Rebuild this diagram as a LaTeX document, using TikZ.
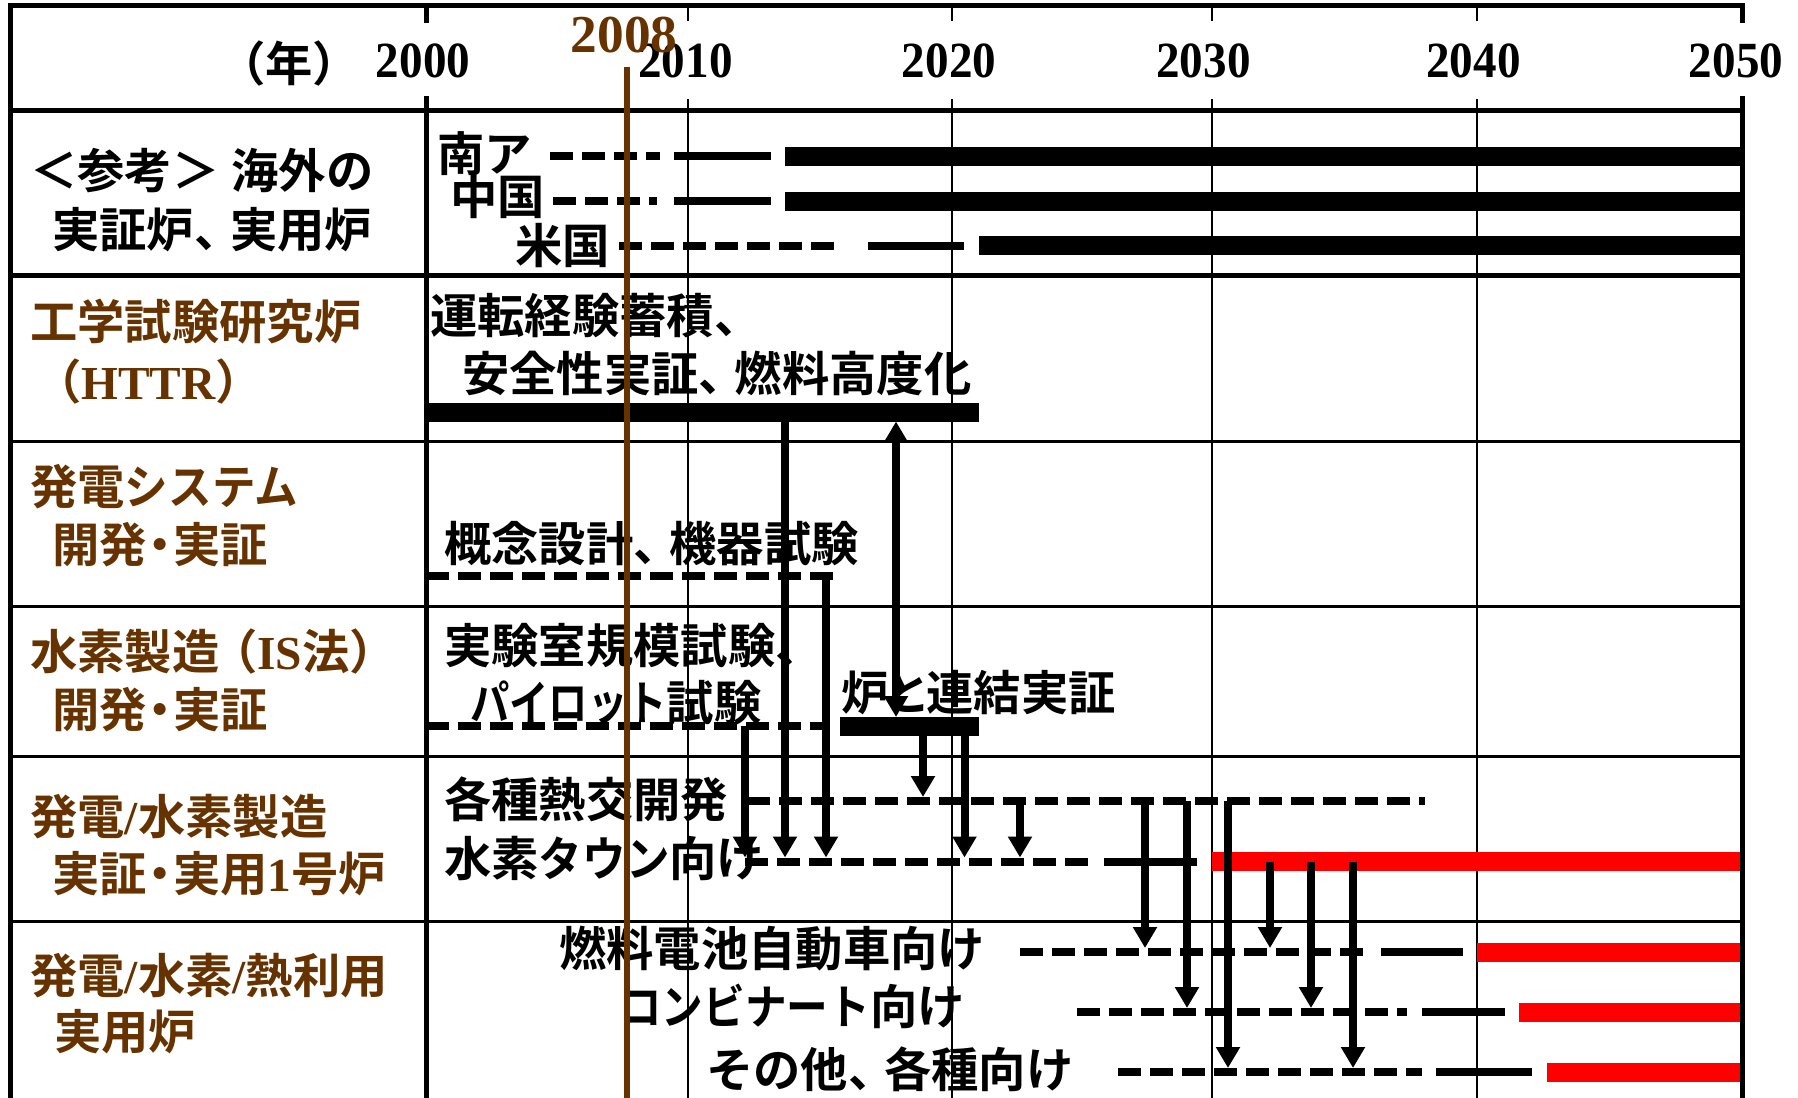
\documentclass[tikz,border=0pt]{standalone}
\usepackage{fontspec}
\usetikzlibrary{arrows.meta}
\newfontfamily\cj{Noto Sans CJK JP}[BoldFont={Noto Sans CJK JP Bold}]
\newfontfamily\tm{Liberation Serif}
\newfontfamily\tmc{Liberation Serif}[FakeStretch=0.93]
\definecolor{brn}{HTML}{663300}
\definecolor{rd}{HTML}{FF0000}
\newcommand\jfont{\cj\bfseries\fontsize{35.5pt}{40pt}\selectfont}
\newcommand\sr[1]{{\tm\bfseries #1}}
\newcommand\tou{\makebox[0.76em][l]{、}}
\newcommand\nkg{\makebox[0.55em][c]{・}}
\newcommand\nx[2]{\scalebox{#1}[1]{#2}}
\newcommand\yfont{\tmc\bfseries\fontsize{38pt}{40pt}\selectfont}
\newcommand\yyfont{\tm\bfseries\fontsize{40pt}{42pt}\selectfont}
\begin{document}
\begin{tikzpicture}[x=0.75pt,y=-0.75pt,
  lab/.style={anchor=west,inner sep=0pt,font=\jfont},
  side/.style={lab,text=brn},
  yr/.style={inner sep=0pt,font=\yfont},
  bd/.style={line width=3.75pt,line cap=rect},
  rowl/.style={line width=1.9pt},
  grid/.style={line width=1.5pt},
  dsh/.style={line width=6pt,dash pattern=on 17.25pt off 6.75pt},
  sol/.style={line width=6pt},
  thk/.style={line width=14.25pt},
  redb/.style={line width=14.25pt,draw=rd},
  tipa/.tip={Triangle[length=15.75pt,width=17.25pt]},
  arr/.style={line width=6pt,-tipa},
  darr/.style={line width=6pt,tipa-tipa}]
\useasboundingbox (0,0) rectangle (1798,1098);

% thin year gridlines
\foreach \gx in {688,952,1212,1477}{
  \draw[grid] (\gx,6) -- (\gx,21);
  \draw[grid] (\gx,99) -- (\gx,1098);
}
% row lines
\draw[bd] (10,111) -- (1742,111);
\draw[bd] (10,275.5) -- (1742,275.5);
\foreach \ry in {441.5,606.5,756.5,921.5}{
  \draw[rowl] (10,\ry) -- (1742,\ry);
}

% ---- row 1 : overseas
\draw[dsh] (550,156.5) -- (660,156.5);
\draw[sol] (674,156.5) -- (771,156.5);
\draw[thk] (785,156.5) -- (1742,156.5);
\draw[dsh] (553,201.5) -- (657,201.5);
\draw[sol] (674,201.5) -- (771,201.5);
\draw[thk] (785,201.5) -- (1742,201.5);
\draw[dsh] (619,246) -- (835,246);
\draw[sol] (868,246) -- (964,246);
\draw[thk] (979,246) -- (1742,246);

% ---- HTTR bar
\draw[thk] (425,412) -- (979,412);
% ---- power system dashed
\draw[dsh] (426,576) -- (833,576);
% ---- IS dashed + coupling bar
\draw[dsh] (426,726) -- (826,726);
\draw[thk] (840,726.5) -- (979,726.5);
% ---- heat exchanger dashed
\draw[dsh] (747,801) -- (1425,801);
% ---- hydrogen town
\draw[dsh] (745,861.5) -- (1088,861.5);
\draw[sol] (1104,861.5) -- (1197,861.5);
\draw[redb] (1212,861.5) -- (1742,861.5);
% ---- practical reactors
\draw[dsh] (1020,952) -- (1364,952);
\draw[sol] (1381,952) -- (1463,952);
\draw[redb] (1477,952) -- (1742,952);
\draw[dsh] (1077,1012) -- (1407,1012);
\draw[sol] (1422,1012) -- (1505,1012);
\draw[redb] (1519,1012) -- (1742,1012);
\draw[dsh] (1118,1072) -- (1422,1072);
\draw[sol] (1436,1072) -- (1532,1072);
\draw[redb] (1547,1072) -- (1742,1072);

% ---- arrows
\draw[arr] (745,726) -- (745,857.5);
\draw[arr] (785,412) -- (785,857.5);
\draw[arr] (826,572) -- (826,857.5);
\draw[darr] (896,421.5) -- (896,717);
\draw[arr] (923,726.5) -- (923,797);
\draw[arr] (964.5,726.5) -- (964.5,857.5);
\draw[arr] (1020,801) -- (1020,857.5);
\draw[arr] (1145,801) -- (1145,948);
\draw[arr] (1187,801) -- (1187,1008);
\draw[arr] (1228,801) -- (1228,1068);
\draw[arr] (1270,861.5) -- (1270,948);
\draw[arr] (1311,861.5) -- (1311,1008);
\draw[arr] (1353,861.5) -- (1353,1068);

% ---- header
\node (nen) [inner sep=0pt,font=\jfont] at (289,63.5) {（年）};
\node (y2000) [yr] at (423,61) {2000};
\node (y2010) [yr] at (685.5,61) {2010};
\node (y2020) [yr] at (949,61) {2020};
\node (y2030) [yr] at (1203.5,61) {2030};
\node (y2040) [yr] at (1473.5,61) {2040};
\node (y2050) [yr] at (1736,61) {2050};

% ---- left column
\node (r1a) [lab] at (30,171) {＜参考＞\hspace{0.25em}海外の};
\node (r1b) [lab] at (52,229.5) {実証炉\tou 実用炉};
\node (r2a) [side] at (30,322) {工学試験研究炉};
\node (r2b) [side] at (34,382) {（\sr{HTTR}）};
\node (r3a) [side] at (30,487) {発電\nx{0.92}{システム}};
\node (r3b) [side] at (52,545) {開発\nkg 実証};
\node (r4a) [side] at (30,652) {水素製造\makebox[0.8em][r]{（}\sr{IS}法\makebox[0.8em][l]{）}};
\node (r4b) [side] at (52,710) {開発\nkg 実証};
\node (r5a) [side] at (30,817) {発電\sr{/}水素製造};
\node (r5b) [side] at (52,874) {実証\nkg 実用\sr{1}号炉};
\node (r6a) [side] at (30,976) {発電\sr{/}水素\sr{/}熱利用};
\node (r6b) [side] at (54,1032) {実用炉};

% ---- right labels
\node (na) [lab] at (437,154) {南ア};
\node (cn) [lab] at (450,196) {中国};
\node (us) [lab] at (515,246) {米国};
\node (h1) [lab] at (430,316) {運転経験蓄積、};
\node (h2) [lab] at (462,373) {安全性実証\tou 燃料高度化};
\node (g1) [lab] at (444,544) {概念設計\tou 機器試験};
\node (s1) [lab] at (444,646) {実験室規模試験、};
\node (s2) [lab] at (470,703) {\nx{0.83}{パイロット}試験};
\node (rk) [lab] at (841,693) {炉\makebox[0.8em][c]{と}連結実証};
\node (k1) [lab] at (444,799) {各種熱交開発};
\node (k2) [lab] at (444,858.5) {水素\nx{0.92}{タウン}向け};
\node (f1) [lab] at (559,948.5) {燃料電池自動車向け};
\node (f2) [lab] at (620,1006) {\nx{0.88}{コンビナート}向け};
\node (f3) [lab] at (706,1069) {その他\tou 各種向け};

% ---- frame
\draw[bd] (10,6) -- (1742,6);
\draw[bd] (10,6) -- (10,1098);
\draw[bd] (426,6) -- (426,21);
\draw[bd] (426,99) -- (426,1098);
\draw[bd] (1742,6) -- (1742,21);
\draw[bd] (1742,99) -- (1742,1098);

% ---- 2008 marker
\draw[draw=brn,line width=4.5pt] (627,67) -- (627,1098);
\node (y2008) [inner sep=0pt,font=\yyfont,text=brn] at (624,35) {2008};
\end{tikzpicture}
\end{document}
